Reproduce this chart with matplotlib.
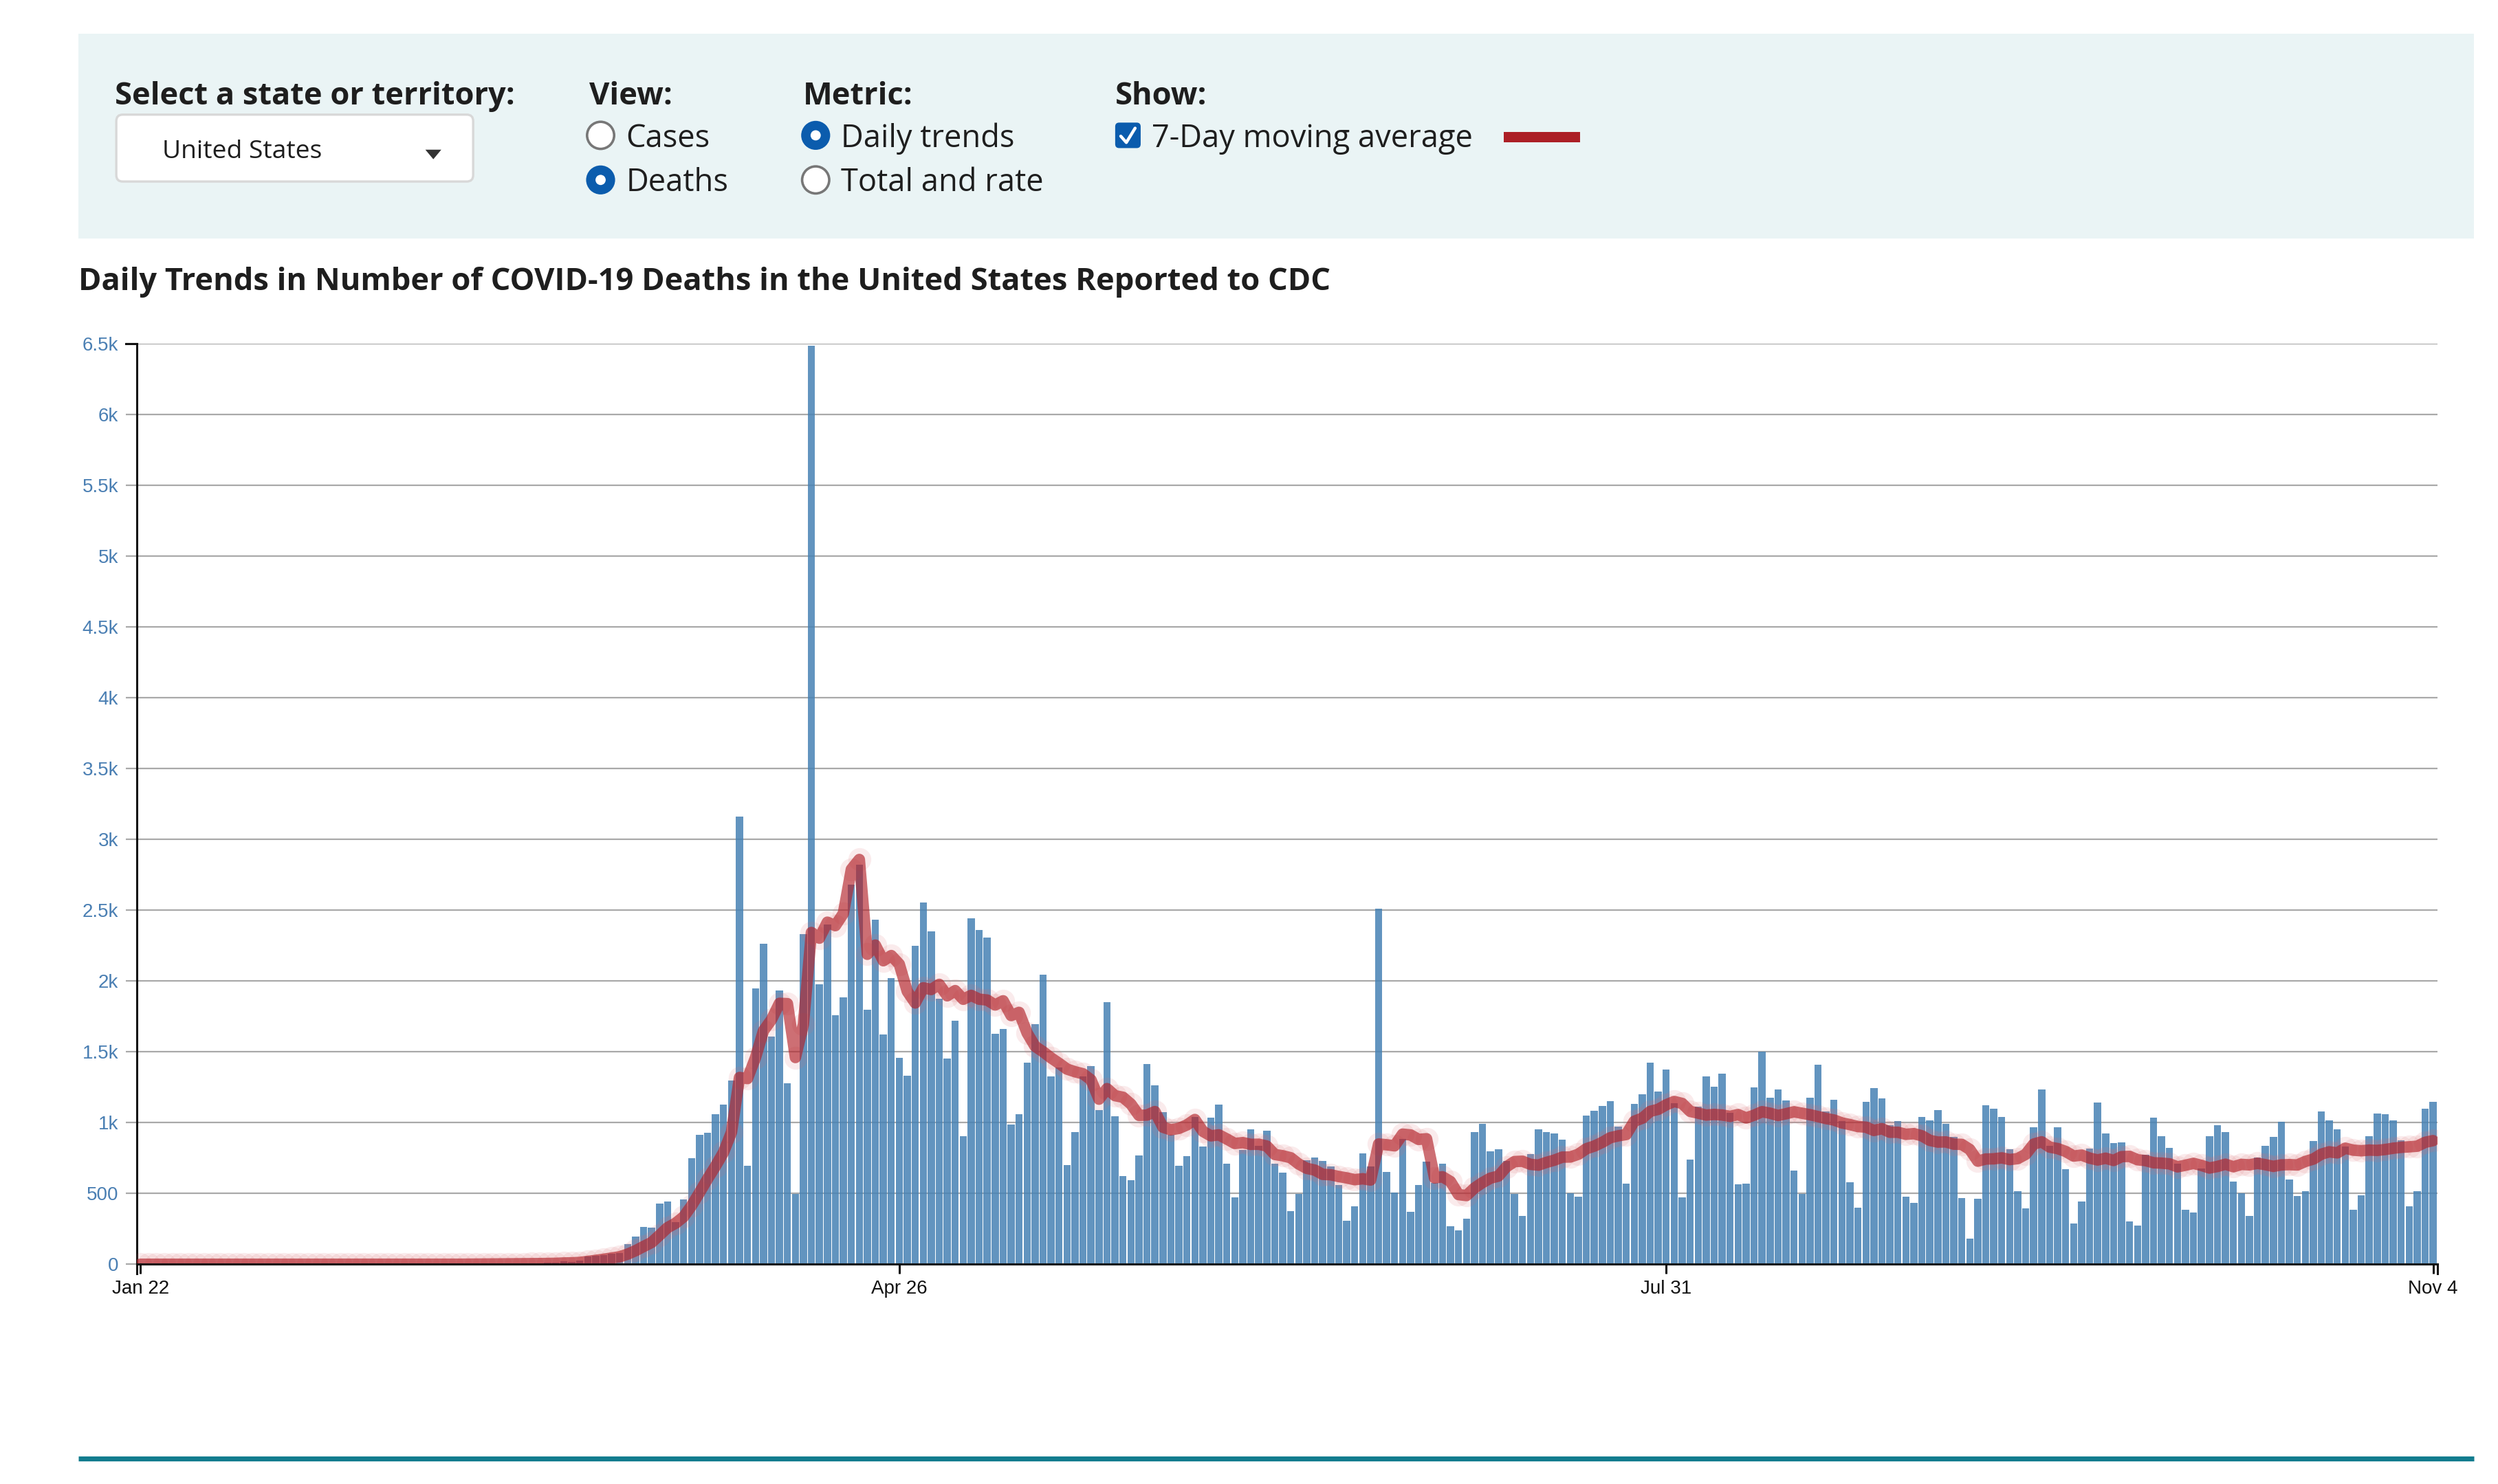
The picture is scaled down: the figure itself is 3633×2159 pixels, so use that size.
import numpy as np
import pandas as pd
import matplotlib
matplotlib.use('Agg')
import matplotlib.pyplot as plt
import matplotlib.dates as mdates
from matplotlib.patches import Rectangle, Circle, FancyBboxPatch, Polygon
from matplotlib.lines import Line2D
from matplotlib.ticker import FuncFormatter

# ---- data : daily new deaths, Jan 22 -> Nov 4 2020 ----
start, end = '2020-01-22', '2020-11-04'
deaths = [0]*38 + [
    1, 0, 1, 3, 2, 3, 2, 4, 3, 5, 6, 5, 8, 10, 9, 20, 14, 25, 55, 60,
    65, 72, 80, 144, 198, 262, 257, 427, 445, 296, 460, 748, 913, 931, 1059, 1126, 1296, 3162, 694, 1946,
    2262, 1607, 1933, 1280, 499, 2334, 6489, 1979, 2398, 1761, 1884, 2679, 2823, 1800, 2436, 1621, 2019, 1460, 1334, 2247,
    2553, 2349, 1877, 1451, 1719, 904, 2442, 2362, 2309, 1630, 1660, 989, 1062, 1426, 1698, 2043, 1325, 1392, 702, 932,
    1325, 1398, 1087, 1849, 1043, 623, 592, 768, 1413, 1262, 1074, 915, 694, 762, 1038, 830, 1034, 1126, 709, 472,
    806, 951, 836, 945, 709, 645, 374, 496, 736, 753, 732, 689, 558, 306, 408, 781, 691, 2513, 651, 506,
    883, 370, 558, 725, 575, 709, 268, 240, 321, 932, 991, 796, 811, 728, 497, 340, 777, 951, 932, 922,
    879, 502, 476, 1049, 1083, 1117, 1151, 971, 568, 1131, 1199, 1422, 1218, 1374, 1136, 471, 738, 1112, 1325, 1252,
    1345, 1068, 563, 568, 1248, 1500, 1175, 1233, 1155, 660, 495, 1175, 1408, 1079, 1160, 1010, 578, 398, 1146, 1243,
    1170, 981, 1010, 476, 432, 1039, 1015, 1087, 990, 898, 466, 180, 461, 1121, 1097, 1039, 811, 515, 393, 966,
    1233, 835, 966, 670, 286, 442, 816, 1141, 922, 854, 859, 301, 273, 775, 1034, 903, 820, 709, 383, 364,
    675, 903, 981, 932, 583, 500, 340, 752, 835, 898, 1005, 597, 481, 515, 869, 1078, 1015, 951, 830, 383,
    485, 903, 1063, 1058, 1015, 874, 408, 515, 1097, 1146]
tick_dates = ['2020-01-22', '2020-04-26', '2020-07-31', '2020-11-04']
y_ticks = list(range(0, 6501, 500))

title = 'Daily Trends in Number of COVID-19 Deaths in the United States Reported to CDC'

dates = pd.date_range(start, end, freq='D')
s = pd.Series(deaths, index=dates)
avg = s.rolling(7, min_periods=1).mean()

# ---- figure ----
W, H = 1568, 932          # layout units (px of the reference preview)
fig = plt.figure(figsize=(18.165, 10.795), dpi=200)
fig.patch.set_facecolor('white')

ui = fig.add_axes([0, 0, 1, 1])
ui.set_xlim(0, W)
ui.set_ylim(H, 0)
ui.axis('off')

UIF = 'Open Sans'
txt = '#1e1e1e'
FS = 16.3

# control panel
ui.add_patch(Rectangle((49, 21), 1504, 129, fc='#eaf4f5', ec='none'))
for x, lab in [(72, 'Select a state or territory:'), (370, 'View:'),
               (504, 'Metric:'), (700, 'Show:')]:
    ui.text(x, 60.5, lab, family=UIF, weight='bold', fontsize=FS, color=txt, va='center', ha='left')

# dropdown
ui.add_patch(FancyBboxPatch((73, 72), 224, 42, boxstyle='round,pad=0,rounding_size=4',
                            fc='white', ec='#d8d8d8', lw=1.2))
ui.text(102, 95.5, 'United States', family=UIF, fontsize=13.4, color=txt, va='center')
ui.add_patch(Polygon([(267, 94), (277, 94), (272, 100)], closed=True, fc='#333333', ec='none'))

# radio buttons
def radio(x, y, on):
    if on:
        ui.add_patch(Circle((x, y), 8.5, fc='#0b5cad', ec='#0b5cad', lw=1))
        ui.add_patch(Circle((x, y), 3.2, fc='white', ec='none'))
    else:
        ui.add_patch(Circle((x, y), 8.5, fc='white', ec='#777777', lw=1.3))

for x, y, lab, on in [(377, 85, 'Cases', False), (377, 113, 'Deaths', True),
                      (512, 85, 'Daily trends', True), (512, 113, 'Total and rate', False)]:
    radio(x, y, on)
    ui.text(x + 16, y + 2, lab, family=UIF, fontsize=FS, color=txt, va='center')

# checkbox + legend swatch
ui.add_patch(FancyBboxPatch((700, 77), 16, 16, boxstyle='round,pad=0,rounding_size=2.5',
                            fc='#0b5cad', ec='none'))
ui.plot([703.5, 707, 712.5], [85.5, 89.5, 80.5], color='white', lw=1.6, solid_capstyle='round')
ui.text(723, 87, '7-Day moving average', family=UIF, fontsize=FS, color=txt, va='center')
ui.add_patch(Rectangle((944, 83), 48, 6.5, fc='#ac1f26', ec='none'))

# title
ui.text(49, 177, title, family=UIF, weight='bold', fontsize=FS, color=txt, va='center', ha='left')

# bottom rule
ui.plot([49, 1553], [916, 916], color='#127c8e', lw=2.6, solid_capstyle='butt')

# ---- chart ----
ax = fig.add_axes([86 / W, 1 - 794 / H, 1444 / W, 578 / H])
ax.set_facecolor('white')

ax.bar(dates, s.values, width=0.9, color='#4682b4', alpha=0.85, linewidth=0, zorder=2)
ax.plot(dates, avg.values, 'o', ms=12, color='#d96a70', alpha=0.13, mew=0, zorder=3)
ax.plot(dates, avg.values, color='#b22229', lw=6, alpha=0.65,
        solid_capstyle='round', solid_joinstyle='round', zorder=4)

ax.set_xlim(dates[0] - pd.Timedelta(hours=10), dates[-1] + pd.Timedelta(hours=13))
ax.set_ylim(0, 6500)

ax.set_yticks(y_ticks)
ax.yaxis.set_major_formatter(FuncFormatter(lambda v, p: f'{v/1000:g}k' if v >= 1000 else f'{v:g}'))
ax.grid(axis='y', color='#a9a9a9', lw=0.8, zorder=1)
ax.set_axisbelow(True)

ax.set_xticks(pd.to_datetime(tick_dates))
ax.xaxis.set_major_formatter(mdates.DateFormatter('%b %-d'))

for sp in ['top', 'right']:
    ax.spines[sp].set_visible(False)
for sp in ['left', 'bottom']:
    ax.spines[sp].set_color('#111111')
    ax.spines[sp].set_linewidth(1.1)
ax.spines['bottom'].set_zorder(5)

ax.tick_params(axis='y', length=5.8, width=0.8, color='#a9a9a9', pad=4,
               labelsize=10, labelcolor='#4a7fb3')
ax.tick_params(axis='x', length=5, width=1.1, color='#111111', pad=3,
               labelsize=10, labelcolor='#111111')
for lab in ax.get_xticklabels() + ax.get_yticklabels():
    lab.set_family('Liberation Sans')

# outer ticks of the axis domains
tl = 7 / 1444
ax.add_line(Line2D([-tl, 0], [1, 1], transform=ax.transAxes, color='#111111', lw=1.1, clip_on=False))
for xx in (0, 1):
    ax.add_line(Line2D([xx, xx], [0, -6 / 578], transform=ax.transAxes, color='#111111',
                       lw=1.1, clip_on=False))

fig.savefig('out.png', dpi=200, facecolor='white')
